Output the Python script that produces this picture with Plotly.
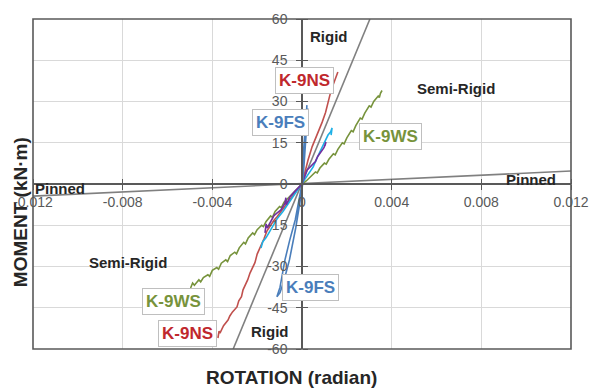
import plotly.graph_objects as go

# ---------------- data ----------------
x_ticks = [-0.012, -0.008, -0.004, 0, 0.004, 0.008, 0.012]
x_tick_text = ["-0.012", "-0.008", "-0.004", "0", "0.004", "0.008", "0.012"]
y_ticks = [-60, -45, -30, -15, 0, 15, 30, 45, 60]
y_tick_text = ["-60", "-45", "-30", "-15", "0", "15", "30", "45", "60"]

# reference classification lines
rigid_x = [-0.00307, 0.00303]
rigid_y = [-60, 60]
pinned_x = [-0.012, 0.012]
pinned_y = [-4.4, 4.7]

# K-9WS (green)
wsx = [-0.00497, -0.00488, -0.0048, -0.0046, -0.00452, -0.0044, -0.0042, -0.00412, -0.0040,
       -0.0038, -0.00372, -0.0036, -0.0034, -0.00332, -0.0032, -0.0030, -0.00292, -0.0028,
       -0.0026, -0.00252, -0.0024, -0.0022, -0.00212, -0.0020, -0.0018, -0.00172, -0.0016,
       -0.0014, -0.00132, -0.0012, -0.0010, -0.00092, -0.0008, -0.0006, -0.0004, -0.0002, 0.0,
       0.0002, 0.0004, 0.0006, 0.00068, 0.0008, 0.0010, 0.00108, 0.0012, 0.0014, 0.00148,
       0.0016, 0.0018, 0.00188, 0.0020, 0.0022, 0.00228, 0.0024, 0.0026, 0.00268, 0.0028,
       0.0030, 0.00308, 0.0032, 0.0034, 0.00345, 0.0035, 0.00357]
wsy = [-37.8, -36.0, -36.8, -34.8, -35.6, -34.0, -33.0, -33.6, -31.4,
       -30.4, -31.0, -28.8, -27.6, -28.2, -26.0, -24.8, -25.4, -23.2,
       -21.2, -21.8, -19.6, -17.8, -18.4, -16.6, -15.0, -15.5, -13.6,
       -11.6, -12.1, -10.0, -8.2, -8.6, -6.6, -5.0, -3.3, -1.6, 0.0,
       1.2, 2.8, 4.4, 4.0, 5.8, 7.6, 7.2, 9.0, 11.0, 10.6,
       12.6, 15.0, 14.6, 16.8, 19.4, 19.0, 21.2, 24.0, 23.6, 25.8,
       28.4, 28.0, 30.0, 32.0, 31.4, 33.0, 34.0]

# K-9NS (red)
nsx = [-0.00375, -0.0037, -0.00366, -0.0035, -0.0033, -0.00322, -0.0031, -0.0029, -0.00282,
       -0.0027, -0.00263, -0.0025, -0.00242, -0.00232, -0.0022, -0.0021, -0.0020, -0.0019,
       -0.00187, -0.0017, -0.00156, -0.0014, -0.00125, -0.00112, -0.0009, -0.00067, -0.00045,
       -0.00022, 0.0, 0.00013, 0.00027, 0.00045, 0.00058, 0.00075, 0.0009, 0.00105, 0.00116,
       0.00125, 0.00134, 0.00145, 0.00152, 0.0016]
nsy = [-56.0, -53.5, -54.2, -51.5, -49.5, -48.0, -46.5, -44.7, -42.5,
       -41.0, -38.5, -36.5, -34.8, -32.4, -30.5, -28.6, -25.5, -23.8,
       -23.0, -20.0, -17.0, -14.8, -13.2, -12.0, -9.5, -7.0, -4.6,
       -2.2, 0.0, 4.4, 8.7, 13.5, 16.0, 19.5, 22.5, 26.0, 30.0,
       32.5, 35.0, 37.5, 38.8, 40.7]

# K-9FS (blue)
fsx = [0.00022, 0.00013, 0.00005, 0.0, -0.00012, -0.0003, -0.00055, -0.00076, -0.00098,
       -0.00112, -0.00098, -0.00080, -0.00056, -0.00028, -0.0001, 0.00003, 0.0001, 0.00018,
       0.00026]
fsy = [28.7, 20.0, 10.0, 0.0, -5.0, -13.0, -20.5, -27.6, -37.5,
       -41.0, -39.5, -35.0, -27.6, -16.0, -7.0, 0.0, 8.0, 18.0,
       27.5]

# unlabelled specimen (cyan)
cyx = [-0.00183, -0.00175, -0.0016, -0.0013, -0.0011, -0.00085, -0.0006, -0.0004, -0.0002,
       0.0, 0.00025, 0.0005, 0.0007, 0.00085, 0.001, 0.00116, 0.00128, 0.00134, 0.0013]
cyy = [-23.3, -21.0, -19.5, -15.6, -12.5, -10.0, -7.0, -4.7, -2.3,
       0.0, 3.2, 6.2, 10.0, 12.5, 15.3, 17.8, 19.0, 20.4, 17.8]

# unlabelled specimen (purple)
pux = [-0.00165, -0.0016, -0.00155, -0.0014, -0.00125, -0.00112, -0.00095, -0.00076, -0.00072,
       -0.0007, -0.00054, -0.0003, 0.0, 0.00022, 0.0004, 0.0005, 0.0006, 0.0007, 0.0008,
       0.0009, 0.00098, 0.00107, 0.00102]
puy = [-17.8, -14.5, -16.0, -13.5, -11.5, -10.6, -9.5, -7.0, -5.0,
       -7.5, -4.7, -2.5, 0.0, 5.0, 6.5, 7.6, 8.2, 10.0, 11.2,
       12.4, 13.2, 15.3, 13.8]

# text labels
region_labels = [
    ("Rigid", 0.0012, 53.5),
    ("Semi-Rigid", 0.00687, 34.9),
    ("Pinned", 0.0102, 1.5),
    ("Pinned", -0.0108, -1.8),
    ("Semi-Rigid", -0.00776, -28.4),
    ("Rigid", -0.00143, -53.8),
]
specimen_labels = [
    ("K-9NS", 0.00013, 37.8, "#c0282d"),
    ("K-9FS", -0.00098, 22.5, "#4a7ebb"),
    ("K-9WS", 0.00393, 17.1, "#77933c"),
    ("K-9WS", -0.00575, -42.9, "#77933c"),
    ("K-9NS", -0.00509, -54.2, "#c0282d"),
    ("K-9FS", 0.0004, -37.8, "#4a7ebb"),
]

# ---------------- figure ----------------
fig = go.Figure()
ref_line = dict(color="#808080", width=1.6)
fig.add_trace(go.Scatter(x=rigid_x, y=rigid_y, mode="lines", line=ref_line, hoverinfo="skip"))
fig.add_trace(go.Scatter(x=pinned_x, y=pinned_y, mode="lines", line=ref_line, hoverinfo="skip"))

for xs, ys, col in [
    (wsx, wsy, "#77933c"),
    (nsx, nsy, "#c0504d"),
    (cyx, cyy, "#1eb0e6"),
    (pux, puy, "#7030a0"),
    (fsx, fsy, "#4a7ebb"),
]:
    fig.add_trace(go.Scatter(x=xs, y=ys, mode="lines", line=dict(color=col, width=1.6)))

# empty trace that carries the overlay axes (other half of the crossing ticks)
fig.add_trace(go.Scatter(x=[], y=[], xaxis="x2", yaxis="y2", mode="lines"))

tick_font = dict(family="Liberation Sans, Arial, sans-serif", size=14, color="#595959")
axis_common = dict(showline=True, linecolor="#595959", linewidth=1.5,
                   showgrid=True, gridcolor="#d9d9d9", gridwidth=1, zeroline=False,
                   ticks="outside", ticklen=5, tickcolor="#595959", tickwidth=1.2,
                   tickfont=tick_font)

fig.update_layout(
    width=591, height=388,
    margin=dict(l=33, r=20, t=19, b=39, autoexpand=False),
    paper_bgcolor="white", plot_bgcolor="white",
    showlegend=False,
    xaxis=dict(range=[-0.012, 0.012], tickvals=x_ticks, ticktext=x_tick_text,
               anchor="free", position=0.5, domain=[0, 1], automargin=False, **axis_common),
    yaxis=dict(range=[-60, 60], tickvals=y_ticks, ticktext=y_tick_text,
               anchor="free", position=0.5, domain=[0, 1], automargin=False,
               ticklabelstandoff=6, **axis_common),
    xaxis2=dict(range=[-0.012, 0.012], tickvals=x_ticks, overlaying="x", side="top",
                anchor="free", position=0.5, showticklabels=False, showgrid=False,
                showline=False, zeroline=False, ticks="outside", ticklen=5,
                tickcolor="#595959", tickwidth=1.2, automargin=False),
    yaxis2=dict(range=[-60, 60], tickvals=y_ticks, overlaying="y", side="right",
                anchor="free", position=0.5, showticklabels=False, showgrid=False,
                showline=False, zeroline=False, ticks="outside", ticklen=5,
                tickcolor="#595959", tickwidth=1.2, automargin=False),
)

# plot frame
fig.add_shape(type="rect", xref="paper", yref="paper", x0=0, y0=0, x1=1, y1=1,
              line=dict(color="#595959", width=1.6), layer="above")

for txt, x, y in region_labels:
    fig.add_annotation(x=x, y=y, xref="x", yref="y", text=txt, showarrow=False,
                       font=dict(family="Liberation Sans, Arial, sans-serif", size=15,
                                 color="#262626", weight="bold"))

for txt, x, y, col in specimen_labels:
    fig.add_annotation(x=x, y=y, xref="x", yref="y", text=txt, showarrow=False,
                       font=dict(family="Liberation Sans, Arial, sans-serif",
                                 size=17, color=col, weight="bold"),
                       bgcolor="white", bordercolor="#bfbfbf", borderwidth=1, borderpad=3)

# axis titles
fig.add_annotation(xref="paper", yref="paper", x=0.481, y=-0.085, yanchor="middle",
                   text="ROTATION (radian)", showarrow=False,
                   font=dict(family="Liberation Sans, Arial, sans-serif", size=19,
                             color="#262626", weight="bold"))
fig.add_annotation(xref="paper", yref="paper", x=-0.024, y=0.415, xanchor="center",
                   text="MOMENT (kN·m)", showarrow=False, textangle=-90,
                   font=dict(family="Liberation Sans, Arial, sans-serif", size=19,
                             color="#262626", weight="bold"))

fig.write_html("out.html")
